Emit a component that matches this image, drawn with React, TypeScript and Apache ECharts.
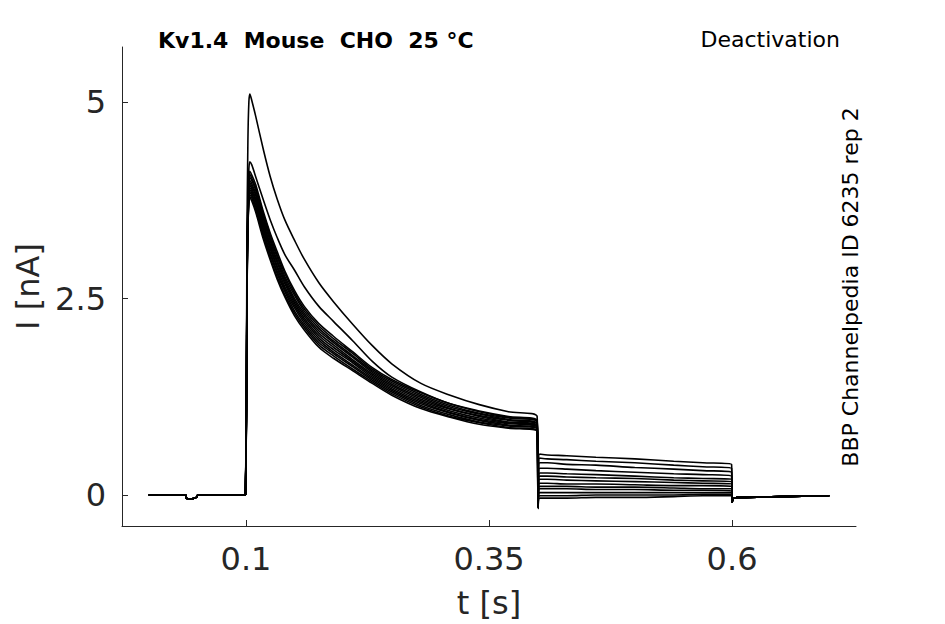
import React, { useEffect, useRef } from 'react';
import * as echarts from 'echarts';

// ============================================================
// Data
// ============================================================

// 13 sweeps: T1 (large first sweep), T2, then the 11 sweeps of the bundle
const SWEEP_COUNT = 13;

// holding period before the step (shared by every sweep)
const BASE_TIMES = [0, 0.038, 0.0385, 0.043, 0.049, 0.0505, 0.0995];
const BASE_VALUES = [0.0, 0.0, -0.04, -0.05, -0.03, 0.0, 0.0];

// activation step: one row per time, one column per sweep
const ACT_TIMES = [
  0.1, 0.1005, 0.101, 0.102, 0.103, 0.104, 0.106, 0.11, 0.118, 0.125, 0.132, 0.14,
  0.15, 0.16, 0.175, 0.19, 0.21, 0.23, 0.25, 0.28, 0.31, 0.34, 0.37, 0.3995,
];
const ACT_VALUES = [
  [0, 0, 0, 0, 0, 0, 0, 0, 0, 0, 0, 0, 0],
  [1.4, 1.2, 1.2, 1.2, 1.15, 1.15, 1.1, 1.1, 1.05, 1.05, 1.0, 1.0, 0.95],
  [3.2, 2.8, 2.7, 2.68, 2.65, 2.62, 2.6, 2.57, 2.55, 2.52, 2.5, 2.47, 2.45],
  [4.5, 3.8, 3.75, 3.72, 3.68, 3.64, 3.6, 3.57, 3.53, 3.5, 3.46, 3.42, 3.38],
  [5.0, 4.15, 4.05, 4.01, 3.97, 3.93, 3.9, 3.86, 3.83, 3.8, 3.76, 3.73, 3.7],
  [5.1, 4.24, 4.12, 4.08, 4.04, 4.0, 3.97, 3.94, 3.91, 3.88, 3.85, 3.82, 3.79],
  [5.02, 4.2, 4.07, 4.03, 4.0, 3.96, 3.93, 3.9, 3.87, 3.84, 3.81, 3.78, 3.74],
  [4.82, 4.05, 3.95, 3.91, 3.88, 3.84, 3.81, 3.77, 3.74, 3.7, 3.67, 3.63, 3.6],
  [4.39, 3.75, 3.6, 3.57, 3.53, 3.5, 3.46, 3.43, 3.39, 3.36, 3.32, 3.29, 3.25],
  [4.05, 3.5, 3.33, 3.3, 3.26, 3.23, 3.19, 3.16, 3.13, 3.09, 3.06, 3.02, 2.99],
  [3.77, 3.28, 3.1, 3.06, 3.03, 2.99, 2.96, 2.92, 2.89, 2.85, 2.82, 2.78, 2.75],
  [3.5, 3.06, 2.85, 2.82, 2.78, 2.75, 2.72, 2.69, 2.65, 2.62, 2.59, 2.55, 2.52],
  [3.24, 2.86, 2.6, 2.57, 2.54, 2.5, 2.47, 2.44, 2.41, 2.38, 2.34, 2.31, 2.28],
  [3.0, 2.65, 2.4, 2.37, 2.34, 2.31, 2.28, 2.25, 2.22, 2.19, 2.16, 2.13, 2.1],
  [2.7, 2.4, 2.18, 2.15, 2.12, 2.09, 2.06, 2.03, 2.0, 1.97, 1.94, 1.91, 1.88],
  [2.46, 2.21, 2.02, 1.99, 1.96, 1.94, 1.91, 1.88, 1.85, 1.82, 1.8, 1.77, 1.74],
  [2.17, 1.96, 1.82, 1.8, 1.77, 1.75, 1.72, 1.7, 1.68, 1.65, 1.63, 1.6, 1.58],
  [1.9, 1.7, 1.62, 1.6, 1.58, 1.56, 1.54, 1.52, 1.5, 1.48, 1.46, 1.44, 1.42],
  [1.67, 1.5, 1.47, 1.45, 1.43, 1.41, 1.39, 1.37, 1.35, 1.33, 1.31, 1.29, 1.27],
  [1.42, 1.31, 1.3, 1.28, 1.26, 1.24, 1.22, 1.2, 1.18, 1.16, 1.14, 1.12, 1.1],
  [1.27, 1.16, 1.16, 1.14, 1.12, 1.1, 1.09, 1.07, 1.05, 1.04, 1.02, 1.0, 0.99],
  [1.15, 1.07, 1.06, 1.04, 1.03, 1.01, 1.0, 0.98, 0.96, 0.95, 0.93, 0.92, 0.9],
  [1.06, 1.0, 0.99, 0.98, 0.96, 0.95, 0.93, 0.92, 0.91, 0.89, 0.88, 0.86, 0.85],
  [1.0, 0.95, 0.94, 0.93, 0.91, 0.9, 0.89, 0.88, 0.86, 0.85, 0.84, 0.82, 0.81],
];

// tail (deactivation) step
const TAIL_TIMES = [0.4005, 0.402, 0.41, 0.43, 0.46, 0.5, 0.54, 0.57, 0.5995];
const TAIL_VALUES = [
  [-0.12, -0.13, -0.13, -0.14, -0.14, -0.15, -0.15, -0.15, -0.16, -0.16, -0.16, -0.17, -0.17],
  [0.52, 0.47, 0.41, 0.34, 0.28, 0.24, 0.2, 0.15, 0.11, 0.08, 0.03, -0.01, -0.04],
  [0.51, 0.46, 0.41, 0.34, 0.28, 0.24, 0.2, 0.15, 0.11, 0.08, 0.03, -0.01, -0.04],
  [0.5, 0.45, 0.39, 0.33, 0.27, 0.23, 0.19, 0.14, 0.11, 0.08, 0.03, -0.01, -0.04],
  [0.48, 0.43, 0.38, 0.31, 0.26, 0.22, 0.18, 0.14, 0.1, 0.07, 0.03, 0.0, -0.03],
  [0.46, 0.41, 0.35, 0.29, 0.24, 0.21, 0.17, 0.13, 0.1, 0.07, 0.03, 0.0, -0.03],
  [0.43, 0.38, 0.33, 0.27, 0.22, 0.19, 0.16, 0.12, 0.09, 0.06, 0.03, 0.0, -0.02],
  [0.41, 0.36, 0.31, 0.26, 0.21, 0.18, 0.15, 0.12, 0.08, 0.06, 0.03, 0.01, -0.01],
  [0.39, 0.34, 0.29, 0.24, 0.2, 0.17, 0.14, 0.11, 0.08, 0.05, 0.03, 0.01, -0.01],
];

// back to holding potential (shared)
const POST_TIMES = [0.6, 0.6005, 0.602, 0.61, 0.65, 0.7];
const POST_VALUES = [-0.09, -0.07, -0.04, -0.03, -0.02, -0.01];

// axis ticks
const X_TICKS = [0.1, 0.35, 0.6];
const Y_TICKS = [0, 2.5, 5];

const TITLE = 'Kv1.4  Mouse  CHO  25 °C';
const PROTOCOL = 'Deactivation';
const SOURCE = 'BBP Channelpedia ID 6235 rep 2';

// ============================================================
// Helpers
// ============================================================

const buildSweep = (k: number): [number, number][] => {
  const pts: [number, number][] = [];
  BASE_TIMES.forEach((t, i) => pts.push([t, BASE_VALUES[i]]));
  ACT_TIMES.forEach((t, i) => pts.push([t, ACT_VALUES[i][k]]));
  TAIL_TIMES.forEach((t, i) => pts.push([t, TAIL_VALUES[i][k]]));
  POST_TIMES.forEach((t, i) => pts.push([t, POST_VALUES[i]]));
  return pts;
};

const FONT = 'DejaVu Sans';
const INK = '#262626';

const App: React.FC = () => {
  const chartRef = useRef<HTMLDivElement>(null);

  useEffect(() => {
    document.body.style.margin = '0';
    if (!chartRef.current) return;
    const chart = echarts.init(chartRef.current, undefined, { renderer: 'svg' });

    const series = Array.from({ length: SWEEP_COUNT }, (_, k) => ({
      type: 'line' as const,
      data: buildSweep(k),
      showSymbol: false,
      silent: true,
      smooth: 0.3,
      lineStyle: { color: '#000', width: 1.6 },
      z: 2,
    }));

    const axisText = { fontSize: 32, color: INK, fontFamily: FONT };

    chart.setOption({
      animation: false,
      backgroundColor: '#fff',
      textStyle: { fontFamily: FONT },
      grid: { left: 122, right: 89, top: 47, bottom: 98, outerBoundsMode: 'none' },
      xAxis: {
        type: 'value',
        min: -0.0275,
        max: 0.7275,
        name: 't [s]',
        nameLocation: 'middle',
        nameGap: 61,
        nameTextStyle: axisText,
        axisLine: { show: true, onZero: false, lineStyle: { color: INK, width: 1 } },
        axisTick: { show: true, inside: true, length: 6, customValues: X_TICKS, lineStyle: { color: INK } },
        axisLabel: { ...axisText, customValues: X_TICKS, margin: 17, formatter: (v: number) => String(v) },
        splitLine: { show: false },
      },
      yAxis: {
        type: 'value',
        min: -0.394,
        max: 5.7,
        name: 'I [nA]',
        nameLocation: 'middle',
        nameGap: 78,
        nameTextStyle: axisText,
        axisLine: { show: true, onZero: false, lineStyle: { color: INK, width: 1 } },
        axisTick: { show: true, inside: true, length: 6, customValues: Y_TICKS, lineStyle: { color: INK } },
        axisLabel: { ...axisText, customValues: Y_TICKS, margin: 16, formatter: (v: number) => String(v) },
        splitLine: { show: false },
      },
      graphic: [
        {
          type: 'text',
          x: 158,
          y: 40,
          style: {
            text: TITLE,
            fontSize: 22,
            fontWeight: 'bold',
            fill: '#000',
            fontFamily: FONT,
            align: 'left',
            verticalAlign: 'middle',
          },
        },
        {
          type: 'text',
          x: 840,
          y: 39,
          style: {
            text: PROTOCOL,
            fontSize: 22,
            fill: '#000',
            fontFamily: FONT,
            align: 'right',
            verticalAlign: 'middle',
          },
        },
        {
          type: 'text',
          x: 850,
          y: 287,
          rotation: Math.PI / 2,
          style: {
            text: SOURCE,
            fontSize: 22,
            fill: '#000',
            fontFamily: FONT,
            align: 'center',
            verticalAlign: 'middle',
          },
        },
      ],
      series,
    });

    return () => {
      chart.dispose();
    };
  }, []);

  return <div ref={chartRef} style={{ width: 945, height: 624 }} />;
};

export default App;
